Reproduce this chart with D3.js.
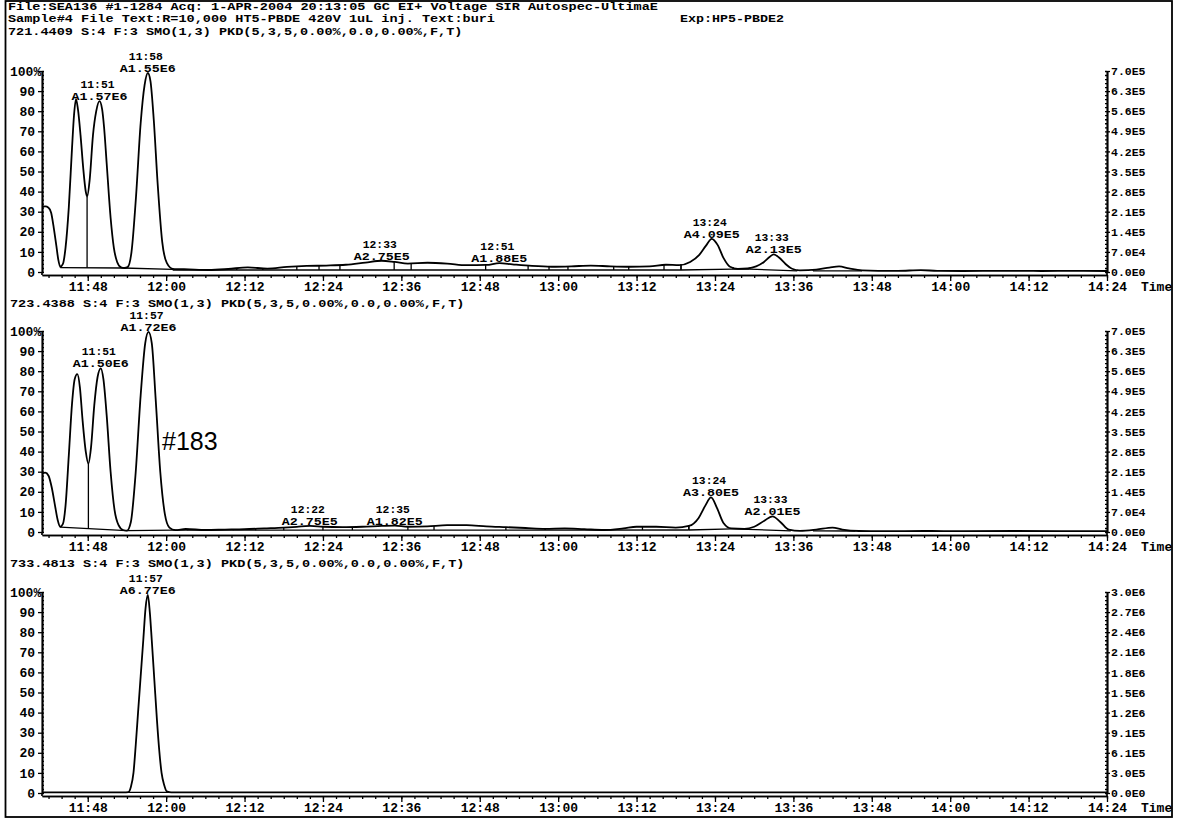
<!DOCTYPE html>
<html>
<head>
<meta charset="utf-8">
<script src="https://cdn.jsdelivr.net/npm/d3@7"></script>
<style>
  html, body { margin: 0; padding: 0; background: #fff; }
  svg { display: block; }
  text { font-family: "Liberation Mono", "DejaVu Sans Mono", monospace; font-weight: bold; fill: #000; }
</style>
</head>
<body>
<svg id="chart" width="1177" height="819"></svg>
<script>
// ---- run header ----
const headerLines = [
  "File:SEA136 #1-1284 Acq: 1-APR-2004 20:13:05 GC EI+ Voltage SIR Autospec-UltimaE",
  "Sample#4 File Text:R=10,000 HT5-PBDE 420V 1uL inj. Text:buri"
];
const experimentLabel = "Exp:HP5-PBDE2";
const channelTitles = [
  "721.4409 S:4 F:3 SMO(1,3) PKD(5,3,5,0.00%,0.0,0.00%,F,T)",
  "723.4388 S:4 F:3 SMO(1,3) PKD(5,3,5,0.00%,0.0,0.00%,F,T)",
  "733.4813 S:4 F:3 SMO(1,3) PKD(5,3,5,0.00%,0.0,0.00%,F,T)"
];
const annotationText = "#183";

// ---- axes (retention time in seconds, 11:41 .. 14:24) ----
const timeDomain = [701, 864];
const timeTicks = [708, 720, 732, 744, 756, 768, 780, 792, 804, 816, 828, 840, 852, 864];
const timeMinorTicks = d3.range(702, 865, 2);
const percentTicks = [0, 10, 20, 30, 40, 50, 60, 70, 80, 90, 100];
const percentMinorTicks = d3.range(0, 101, 2);
const intensityTicks721 = ["0.0E0","7.0E4","1.4E5","2.1E5","2.8E5","3.5E5","4.2E5","4.9E5","5.6E5","6.3E5","7.0E5"];
const intensityTicks723 = ["0.0E0","7.0E4","1.4E5","2.1E5","2.8E5","3.5E5","4.2E5","4.9E5","5.6E5","6.3E5","7.0E5"];
const intensityTicks733 = ["0.0E0","3.0E5","6.1E5","9.1E5","1.2E6","1.5E6","1.8E6","2.1E6","2.4E6","2.7E6","3.0E6"];

// ---- traces: [retention time s, relative intensity %] ----
const trace721 = [
  [701.0,32.5],[701.5,32.6],[702.0,32.0],[702.4,29.5],[702.8,22],[703.2,13],[703.5,6],[703.8,2.6],
  [704.2,4],[704.6,12],[705.1,32],[705.6,62],[705.9,78],[706.2,86],[706.5,81],[706.9,68],[707.3,52],
  [707.7,40],[707.9,37.5],[708.3,46],[708.8,68],[709.3,80],[709.8,85],[710.2,81],[710.5,72],[710.9,54],
  [711.5,27],[712.0,12],[712.5,5],[713.1,2.3],[713.6,2.0],[714.1,2.4],[714.7,10],[715.4,38],[716.1,74],
  [716.7,93],[717.2,99],[717.6,95],[718.1,76],[718.7,44],[719.4,15],[720.1,4.5],[721.0,1.6],
  [723.5,1.3],[726.5,1.0],[729.5,1.5],[732.5,2.3],[735.5,1.7],[738.5,2.5],[741.5,3.0],[744.5,3.2],
  [747.5,3.6],[750.5,4.7],[753.0,5.6],[755.0,5.0],[757.0,4.2],[760.0,4.6],[763.0,4.2],[766.0,3.4],
  [769.0,3.5],[771.0,4.4],[773.0,3.8],[776.0,3.0],[779.0,2.6],[782.0,2.8],[785.0,3.2],[788.0,2.8],
  [791.0,2.6],[794.0,2.8],[796.5,3.6],[798.5,3.4],[800.2,5.0],[801.6,8.5],[802.6,13],[803.5,16.5],
  [804.4,13.5],[805.3,7],[806.3,2.6],[807.5,1.6],[809.0,1.8],[810.3,2.8],[811.5,5.0],[812.4,7.6],
  [813.0,8.8],[813.8,7.2],[814.8,4.0],[815.8,1.6],[817.0,0.8],[819.5,1.2],[821.5,2.2],[823.0,2.8],
  [824.5,1.8],[826.5,0.8],[829.0,0.6],[832.0,0.6],[835.5,0.9],[838.0,0.6],[842.0,0.5],[848.0,0.6],
  [854.0,0.5],[859.0,0.6],[864.0,0.5]
];
const trace723 = [
  [701.0,29.0],[701.5,29.5],[702.0,28.0],[702.5,22],[703.0,13],[703.4,6],[703.8,2.6],[704.2,4],
  [704.6,13],[705.1,38],[705.6,64],[706.0,76],[706.4,78.5],[706.8,72],[707.2,56],[707.7,40],[708.1,34],
  [708.5,42],[709.0,63],[709.5,77],[710.0,81.4],[710.4,76],[710.9,58],[711.5,30],[712.1,11],[712.7,3.5],
  [713.4,1.0],[714.0,0.7],[714.6,5],[715.3,28],[716.1,68],[716.8,94],[717.3,99.6],[717.8,94],[718.4,66],
  [719.1,30],[719.8,9],[720.5,2.2],[721.4,0.9],
  [723.0,1.5],[726.0,1.0],[729.0,1.2],[732.0,1.4],[735.0,1.8],[738.0,2.2],[740.0,2.6],[742.0,3.0],
  [744.0,2.6],[747.0,2.4],[750.0,2.6],[753.0,3.0],[755.0,3.2],[757.0,2.6],[760.0,2.8],[763.0,3.4],
  [766.0,3.4],[769.0,2.8],[772.0,2.4],[775.0,2.0],[778.0,1.6],[781.0,1.8],[784.0,1.4],[787.0,1.0],
  [790.0,1.8],[792.0,2.6],[795.0,2.6],[798.0,2.2],[800.0,3.0],[801.5,7],[802.5,13],[803.4,17.2],
  [804.3,12],[805.3,4.5],[806.5,1.8],[808.5,1.6],[810.0,2.6],[811.5,5.5],[812.8,7.8],[814.0,5],
  [815.3,1.2],[817.0,0.6],[819.5,1.2],[822.0,2.2],[823.5,1.2],[826.0,0.5],[830.0,0.4],[836.0,0.5],
  [842.0,0.4],[850.0,0.5],[857.0,0.4],[864.0,0.4]
];
const trace733 = [
  [701.0,0.3],[706.0,0.3],[710.0,0.3],[713.5,0.3],[714.2,0.4],[714.6,3],[715.0,10],[715.35,24],
  [715.7,40],[716.1,58],[716.5,76],[716.85,92],[717.2,98.5],[717.5,90],[717.8,76],[718.2,56],
  [718.6,36],[718.95,21],[719.3,10],[719.7,4],[720.1,0.8],[720.8,0.3],[725.0,0.3],[735.0,0.3],
  [750.0,0.3],[770.0,0.3],[790.0,0.3],[810.0,0.3],[830.0,0.3],[850.0,0.3],[864.0,0.3]
];

// ---- integration baselines: start/end time, level %, valley drop times ----
const baselines721 = [
  { from: 703.8, to: 713.4, v0: 2.2, v1: 2.0, drops: [707.9] },
  { from: 713.4, to: 721.0, v0: 2.0, v1: 1.3, drops: [] },
  { from: 721.0, to: 798.8, v0: 1.0, v1: 1.0,
    drops: [723.5, 730.8, 734.8, 740.0, 743.4, 746.6, 754.9, 757.5, 768.9, 775.4, 778.6, 781.5, 788.5, 790.8, 796.2] },
  { from: 798.8, to: 806.8, v0: 1.0, v1: 1.4, drops: [] },
  { from: 806.8, to: 809.3, v0: 1.4, v1: 1.4, drops: [] },
  { from: 809.3, to: 816.6, v0: 1.4, v1: 0.6, drops: [] },
  { from: 819.0, to: 826.5, v0: 0.6, v1: 0.6, drops: [] }
];
const baselines723 = [
  { from: 703.8, to: 713.9, v0: 2.4, v1: 0.7, drops: [708.1] },
  { from: 713.9, to: 721.2, v0: 0.7, v1: 0.9, drops: [] },
  { from: 721.2, to: 800.0, v0: 0.9, v1: 1.0,
    drops: [723.3, 726.3, 730.3, 733.7, 738.0, 744.0, 748.5, 757.0, 761.0, 772.0, 778.0, 787.6, 792.9] },
  { from: 800.0, to: 806.6, v0: 1.0, v1: 1.6, drops: [] },
  { from: 806.6, to: 815.6, v0: 1.6, v1: 0.6, drops: [808.8] },
  { from: 819.0, to: 825.5, v0: 0.6, v1: 0.5, drops: [] }
];
const baselines733 = [
  { from: 714.2, to: 720.6, v0: 0.3, v1: 0.3, drops: [] }
];

// ---- peak annotations (apex time, integrated area) ----
const peaks721 = [
  { rt: "11:51", area: "A1.57E6" }, { rt: "11:58", area: "A1.55E6" },
  { rt: "12:33", area: "A2.75E5" }, { rt: "12:51", area: "A1.88E5" },
  { rt: "13:24", area: "A4.09E5" }, { rt: "13:33", area: "A2.13E5" }
];
const peaks723 = [
  { rt: "11:51", area: "A1.50E6" }, { rt: "11:57", area: "A1.72E6" },
  { rt: "12:22", area: "A2.75E5" }, { rt: "12:35", area: "A1.82E5" },
  { rt: "13:24", area: "A3.80E5" }, { rt: "13:33", area: "A2.01E5" }
];
const peaks733 = [
  { rt: "11:57", area: "A6.77E6" }
];

// ---- layout ----
const svg = d3.select("#chart");
const plotLeft = 42, plotRight = 1107, plotH = 201;
const x = d3.scaleLinear().domain(timeDomain).range([plotLeft, plotRight]);
const fmtTime = s => `${Math.floor(s / 60)}:${String(Math.round(s % 60)).padStart(2, "0")}`;
const parseTime = str => { const [m, s] = str.split(":").map(Number); return m * 60 + s; };

function traceAt(trace, t) {
  const i = d3.bisector(d => d[0]).left(trace, t);
  if (i <= 0) return trace[0][1];
  if (i >= trace.length) return trace[trace.length - 1][1];
  const a = trace[i - 1], b = trace[i];
  return a[1] + (b[1] - a[1]) * (t - a[0]) / (b[0] - a[0]);
}

const channels = [
  { title: channelTitles[0], trace: trace721, baselines: baselines721, peaks: peaks721, intensity: intensityTicks721, base: 272, titleY: 34.8, titleX: 8 },
  { title: channelTitles[1], trace: trace723, baselines: baselines723, peaks: peaks723, intensity: intensityTicks723, base: 532, titleY: 306.5, titleX: 10 },
  { title: channelTitles[2], trace: trace733, baselines: baselines733, peaks: peaks733, intensity: intensityTicks733, base: 793, titleY: 567, titleX: 10 }
];

// monospaced report lines, stretched to the printer's character pitch
const headerFont = "11px", headerPitch = 8.15;
function reportLine(sel, str) {
  return sel.style("font-size", headerFont)
    .attr("textLength", str.length * headerPitch - 2)
    .attr("lengthAdjust", "spacingAndGlyphs")
    .text(str);
}

// frame
svg.append("rect")
  .attr("x", 5.5).attr("y", 1).attr("width", 1166.5).attr("height", 816)
  .attr("fill", "none").attr("stroke", "#000").attr("stroke-width", 1.8);

// header
headerLines.forEach((line, i) => {
  reportLine(svg.append("text").attr("x", 8).attr("y", 10 + i * 12.4), line);
});
reportLine(svg.append("text").attr("x", 680).attr("y", 22.4), experimentLabel);

function styleAxis(g, size) {
  g.attr("font-family", null).attr("font-size", null);
  g.selectAll("text").style("font-size", size);
  g.select(".domain").attr("stroke", "#000").attr("stroke-width", 1.7);
  g.selectAll(".tick line").attr("stroke", "#000").attr("stroke-width", 1.3);
}

channels.forEach(ch => {
  const y = d3.scaleLinear().domain([0, 100]).range([ch.base, ch.base - plotH]);
  const axisY = ch.base + 3;
  const g = svg.append("g");

  reportLine(g.append("text").attr("x", ch.titleX).attr("y", ch.titleY), ch.title);

  // time axis: minor then major ticks
  g.append("g").attr("transform", `translate(0,${axisY})`)
    .call(d3.axisBottom(x).tickValues(timeMinorTicks).tickSize(3).tickFormat("").tickSizeOuter(0))
    .call(a => styleAxis(a, "13px"));
  const xa = g.append("g").attr("transform", `translate(0,${axisY})`)
    .call(d3.axisBottom(x).tickValues(timeTicks).tickSize(6).tickPadding(0).tickFormat(fmtTime).tickSizeOuter(0))
    .call(a => styleAxis(a, "13px"));
  xa.selectAll(".tick text").attr("dy", "0.74em");
  g.append("text").attr("x", 1141).attr("y", axisY + 15.5).style("font-size", "13px").text("Time");

  // relative intensity axis (left)
  g.append("g").attr("transform", `translate(${plotLeft},0)`)
    .call(d3.axisLeft(y).tickValues(percentMinorTicks).tickSize(-2).tickFormat("").tickSizeOuter(0))
    .call(a => styleAxis(a, "13px"));
  const ya = g.append("g").attr("transform", `translate(${plotLeft},0)`)
    .call(d3.axisLeft(y).tickValues(percentTicks).tickSize(4).tickPadding(3)
      .tickFormat(d => d === 100 ? "100%" : String(d)).tickSizeOuter(0))
    .call(a => styleAxis(a, "13px"));
  ya.selectAll(".tick text").filter(d => d === 100).attr("text-anchor", "start").attr("x", -32);
  g.append("line").attr("x1", plotLeft).attr("x2", plotLeft).attr("y1", y(0)).attr("y2", axisY)
    .attr("stroke", "#000").attr("stroke-width", 1.7);

  // absolute intensity axis (right)
  g.append("g").attr("transform", `translate(${plotRight},0)`)
    .call(d3.axisRight(y).tickValues(percentMinorTicks).tickSize(-2).tickFormat("").tickSizeOuter(0))
    .call(a => styleAxis(a, "11.5px"));
  g.append("g").attr("transform", `translate(${plotRight},0)`)
    .call(d3.axisRight(y).tickValues(percentTicks).tickSize(3).tickPadding(1)
      .tickFormat((d, i) => ch.intensity[i]).tickSizeOuter(0))
    .call(a => styleAxis(a, "11.5px"));
  g.append("line").attr("x1", plotRight).attr("x2", plotRight).attr("y1", y(0)).attr("y2", axisY)
    .attr("stroke", "#000").attr("stroke-width", 1.7);

  // integration baselines with valley drop lines
  ch.baselines.forEach(b => {
    const level = t => b.v0 + (b.v1 - b.v0) * (t - b.from) / (b.to - b.from);
    g.append("line")
      .attr("x1", x(b.from)).attr("y1", y(b.v0)).attr("x2", x(b.to)).attr("y2", y(b.v1))
      .attr("stroke", "#000").attr("stroke-width", 1.3);
    [b.from, ...b.drops, b.to].forEach(t => {
      g.append("line")
        .attr("x1", x(t)).attr("x2", x(t))
        .attr("y1", y(level(t))).attr("y2", y(traceAt(ch.trace, t)))
        .attr("stroke", "#000").attr("stroke-width", 1.3);
    });
  });

  // chromatogram trace
  g.append("path").datum(ch.trace)
    .attr("fill", "none").attr("stroke", "#000").attr("stroke-width", 1.8)
    .attr("stroke-linejoin", "round")
    .attr("d", d3.line().x(d => x(d[0])).y(d => y(d[1])).curve(d3.curveMonotoneX));

  // peak annotations placed on the apex nearest the labelled time
  ch.peaks.forEach(p => {
    const t0 = parseTime(p.rt);
    const near = ch.trace.filter(d => d[0] >= t0 - 3 && d[0] <= t0 + 3);
    const apex = d3.greatest(near, d => d[1]);
    const ax = x(apex[0]), ay = y(apex[1]);
    g.append("text").attr("x", ax - 2).attr("y", ay - 13).attr("text-anchor", "middle")
      .style("font-size", "10.5px").attr("textLength", 34).attr("lengthAdjust", "spacingAndGlyphs")
      .text(p.rt);
    g.append("text").attr("x", ax).attr("y", ay - 1).attr("text-anchor", "middle")
      .style("font-size", "10.5px").attr("textLength", 56).attr("lengthAdjust", "spacingAndGlyphs")
      .text(p.area);
  });
});

// congener number written beside the 11:57 peak of the second channel
svg.append("text").attr("x", 162).attr("y", 450)
  .style("font-family", "'Liberation Sans', Arial, sans-serif").style("font-weight", "normal")
  .style("font-size", "25px").text(annotationText);
</script>
</body>
</html>
